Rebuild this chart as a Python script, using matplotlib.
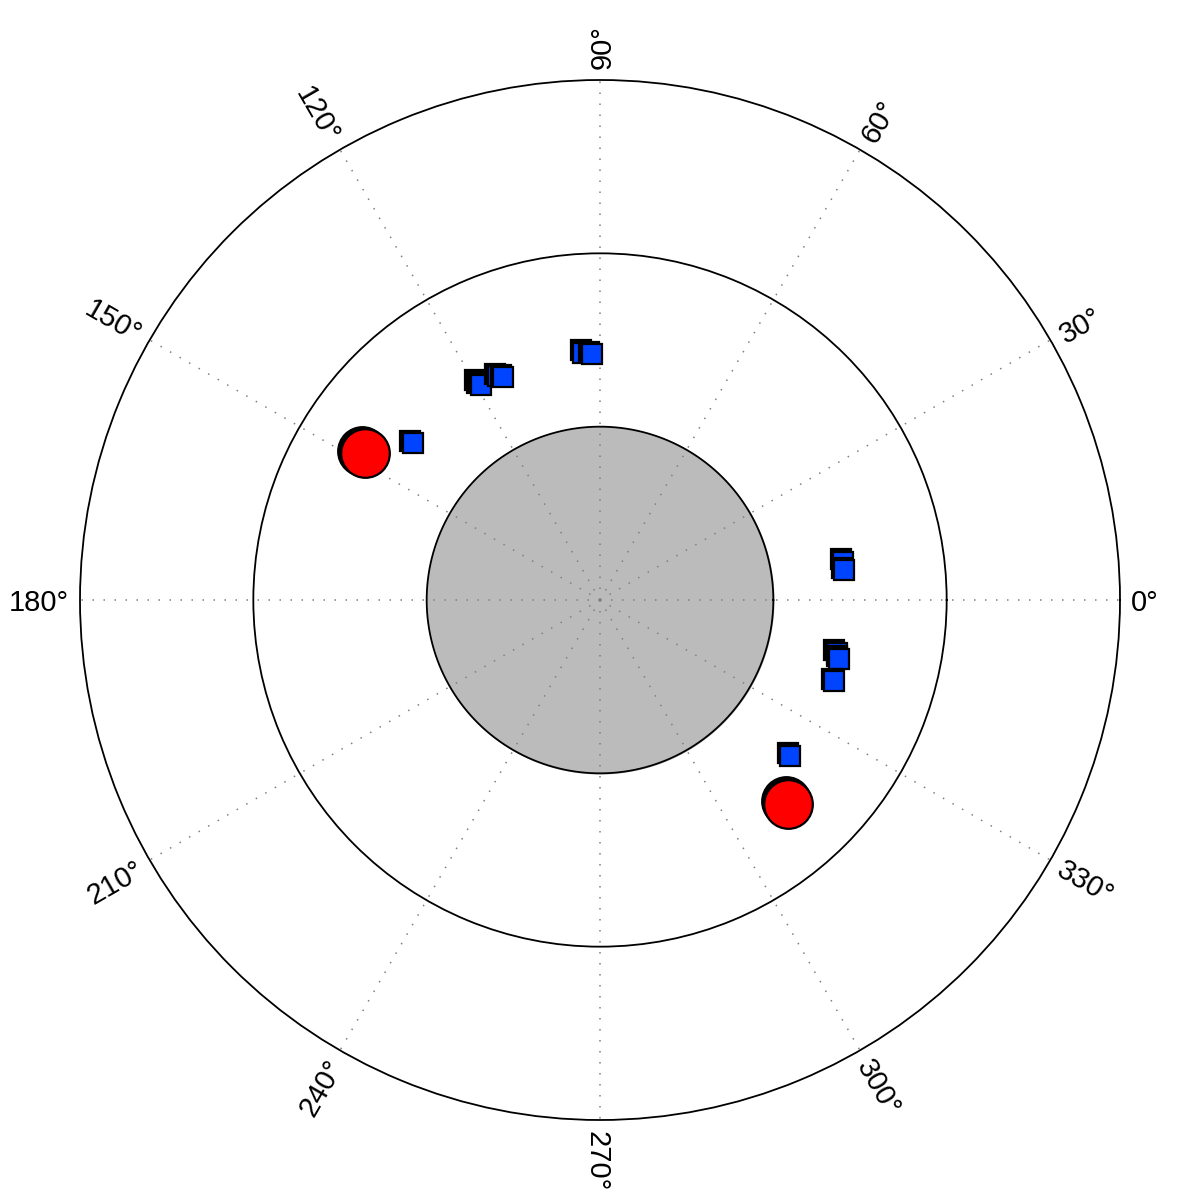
import numpy as np
import matplotlib
matplotlib.use("Agg")
import matplotlib.pyplot as plt
from matplotlib.transforms import offset_copy

plt.rcParams['font.family'] = ['Liberation Sans', 'DejaVu Sans']

# blue squares (deg, radius), listed in drawing order
blue_theta = [93.9, 91.9, 119.5, 119.0, 114.5, 113.5, 140.1,
              8.9, 6.9, 347.4, 346.2, 340.9, 320.7]
blue_r = [1.43, 1.42, 1.44, 1.42, 1.42, 1.40, 1.41,
          1.42, 1.42, 1.40, 1.42, 1.43, 1.42]

# red circles
red_theta = [148.0, 312.7]
red_r = [1.60, 1.60]

tick_deg = [0, 30, 60, 90, 120, 150, 180, 210, 240, 270, 300, 330]
tick_labels = ['%d°' % d for d in tick_deg]

fig = plt.figure(figsize=(12, 12), dpi=100)
ax = fig.add_axes([80/1200, 80/1200, 1040/1200, 1040/1200], projection='polar')
ax.set_ylim(0, 3)

# grey inner disk
t = np.linspace(0, 2*np.pi, 400)
ax.fill_between(t, 0, 1, color='#bbbbbb', zorder=1)
ax.plot(t, np.ones_like(t), color='black', lw=1.3, zorder=1.6)

ax.set_rgrids([2], labels=[''])
ax.yaxis.grid(True, color='black', linestyle='-', linewidth=1.3)
ax.set_thetagrids(tick_deg, labels=['']*len(tick_deg))
ax.xaxis.grid(True, color='#808080', linestyle=(0, (1, 6.2)), linewidth=1.1)
ax.spines['polar'].set_linewidth(1.3)
ax.tick_params(axis='both', length=0)

# tick labels placed by hand so they follow the radial direction
for d, lab in zip(tick_deg, tick_labels):
    if d <= 90 or d >= 270:
        rot = d if d <= 90 else d - 360
        ha = 'left'
    else:
        rot = d - 180
        ha = 'right'
    ax.text(np.deg2rad(d), 3.065, lab, rotation=rot, rotation_mode='anchor',
            ha=ha, va='center_baseline', fontsize=21, clip_on=False)

shadow = offset_copy(ax.transData, fig=fig, x=-2.5, y=2.5, units='dots')

for th, r in zip(blue_theta, blue_r):
    ax.plot(np.deg2rad(th), r, 's', ms=14.5, mfc='black', mec='black',
            mew=1.6, transform=shadow, zorder=3, clip_on=False)
    ax.plot(np.deg2rad(th), r, 's', ms=14.5, mfc='#0044ff', mec='black',
            mew=1.6, zorder=3, clip_on=False)

for th, r in zip(red_theta, red_r):
    ax.plot(np.deg2rad(th), r, 'o', ms=35, mfc='black', mec='black',
            mew=1.6, transform=shadow, zorder=3, clip_on=False)
    ax.plot(np.deg2rad(th), r, 'o', ms=35, mfc='#ff0000', mec='black',
            mew=1.6, zorder=3, clip_on=False)

fig.savefig('out.png', dpi=100)
